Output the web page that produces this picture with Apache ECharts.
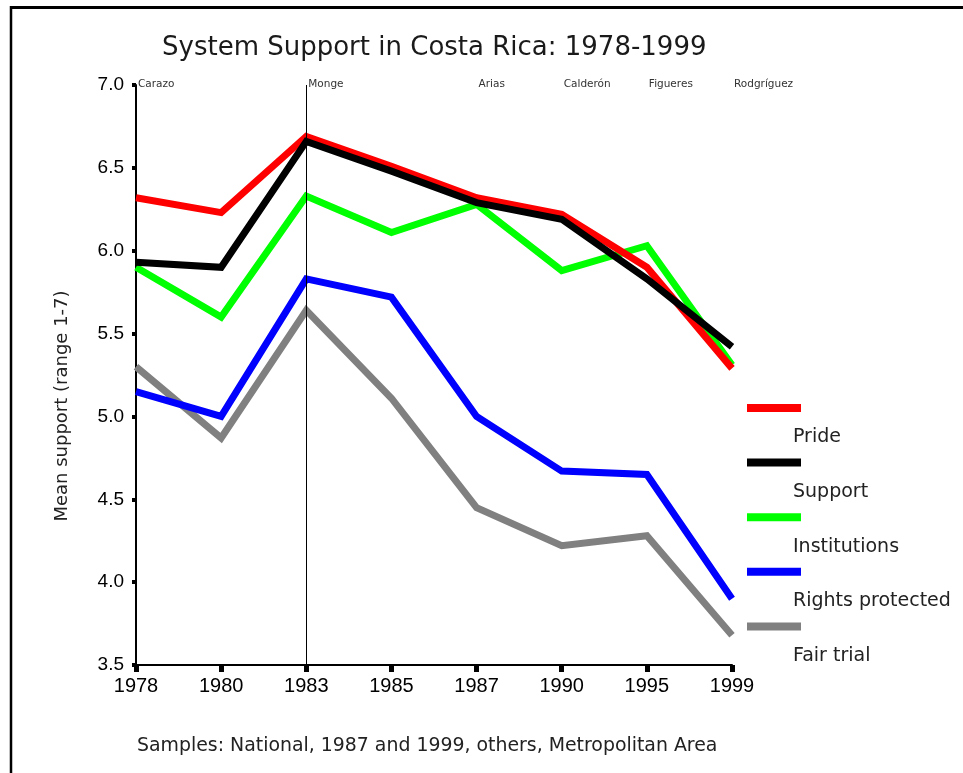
<!DOCTYPE html>
<html>
<head>
<meta charset="utf-8">
<script src="https://cdn.jsdelivr.net/npm/echarts@6/dist/echarts.min.js"></script>
<style>
html,body{margin:0;padding:0;background:#fff;}
#chart{width:963px;height:773px;}
</style>
</head>
<body>
<div id="chart"></div>
<script>
var years = ['1978','1980','1983','1985','1987','1990','1995','1999'];
var presidents = ['Carazo','','Monge','','Arias','Calderón','Figueres','Rodgríguez'];
var yTicks = [3.5, 4.0, 4.5, 5.0, 5.5, 6.0, 6.5, 7.0];

var pride        = [6.32, 6.23, 6.69, 6.51, 6.32, 6.22, 5.90, 5.29];
var support      = [5.93, 5.90, 6.66, 6.48, 6.29, 6.19, 5.83, 5.42];
var institutions = [5.90, 5.60, 6.33, 6.11, 6.28, 5.88, 6.03, 5.31];
var rights       = [5.15, 5.00, 5.83, 5.72, 5.00, 4.67, 4.65, 3.90];
var fairTrial    = [5.30, 4.87, 5.64, 5.11, 4.45, 4.22, 4.28, 3.68];

var seriesNames  = ['Pride', 'Support', 'Institutions', 'Rights protected', 'Fair trial'];
var seriesData   = [pride, support, institutions, rights, fairTrial];
var seriesColors = ['#ff0000', '#000000', '#00ff00', '#0000ff', '#808080'];
var seriesZ      = [4, 5, 3, 2, 1];

var chart = echarts.init(document.getElementById('chart'), null, {renderer: 'canvas'});

var series = seriesNames.map(function (name, i) {
  var s = {
    name: name,
    type: 'line',
    data: seriesData[i],
    symbol: 'none',
    z: seriesZ[i],
    lineStyle: {color: seriesColors[i], width: 7, cap: 'butt', join: 'miter'},
    itemStyle: {color: seriesColors[i]},
    animation: false
  };
  if (name === 'Support') {
    s.markLine = {
      silent: true,
      symbol: 'none',
      label: {show: false},
      lineStyle: {color: '#000', width: 1, type: 'solid'},
      data: [{xAxis: '1983'}],
      animation: false
    };
  }
  return s;
});

var graphics = [
  {type: 'line', shape: {x1: 10, y1: 7.5, x2: 963, y2: 7.5}, style: {stroke: '#000', lineWidth: 3}, z: 100},
  {type: 'line', shape: {x1: 11, y1: 6, x2: 11, y2: 773}, style: {stroke: '#000', lineWidth: 2.5}, z: 100},
  {type: 'text', x: 62, y: 406, rotation: Math.PI / 2,
   style: {text: 'Mean support (range 1-7)', fill: '#222', font: '18px "DejaVu Sans"', align: 'center', verticalAlign: 'middle'}},
  {type: 'text', x: 137, y: 746,
   style: {text: 'Samples: National, 1987 and 1999, others, Metropolitan Area', fill: '#222', font: '18.9px "DejaVu Sans"', align: 'left', verticalAlign: 'middle'}}
];
seriesNames.forEach(function (name, i) {
  var yl = 408 + i * 54.6;
  graphics.push({type: 'rect', shape: {x: 747, y: yl - 4, width: 54, height: 8}, style: {fill: seriesColors[i]}});
  graphics.push({type: 'text', x: 793, y: yl + 29.5,
    style: {text: name, fill: '#222', font: '19px "DejaVu Sans"', align: 'left', verticalAlign: 'middle'}});
});

var option = {
  backgroundColor: '#fff',
  animation: false,
  title: {
    text: 'System Support in Costa Rica: 1978-1999',
    left: 157, top: 30,
    textStyle: {fontFamily: 'DejaVu Sans', fontSize: 26, fontWeight: 'normal', color: '#1a1a1a'}
  },
  grid: {left: 136, top: 85, right: 231, bottom: 108, containLabel: false},
  xAxis: [{
    type: 'category',
    data: years,
    boundaryGap: false,
    position: 'bottom',
    axisLine: {show: true, lineStyle: {color: '#000', width: 2}},
    axisTick: {show: true, interval: 0, length: 7, lineStyle: {color: '#000', width: 5}},
    axisLabel: {interval: 0, margin: 11, color: '#000', fontFamily: '"Liberation Sans", Arial, sans-serif', fontSize: 20},
    splitLine: {show: false}
  }, {
    type: 'category',
    data: presidents,
    boundaryGap: false,
    position: 'top',
    axisLine: {show: false},
    axisTick: {show: false},
    axisLabel: {interval: 0, margin: -5, align: 'left', padding: [0, 0, 0, 2], color: '#333', fontFamily: 'DejaVu Sans', fontSize: 10.5},
    splitLine: {show: false}
  }],
  yAxis: {
    type: 'value',
    min: yTicks[0],
    max: yTicks[yTicks.length - 1],
    interval: 0.5,
    axisLine: {show: true, lineStyle: {color: '#000', width: 2}},
    axisTick: {show: true, length: 4, lineStyle: {color: '#000', width: 4}},
    axisLabel: {margin: 12, color: '#000', fontFamily: '"Liberation Sans", Arial, sans-serif', fontSize: 19,
      formatter: function (v) { return v.toFixed(1); }},
    splitLine: {show: false}
  },
  series: series,
  graphic: graphics
};
chart.setOption(option);
</script>
</body>
</html>
